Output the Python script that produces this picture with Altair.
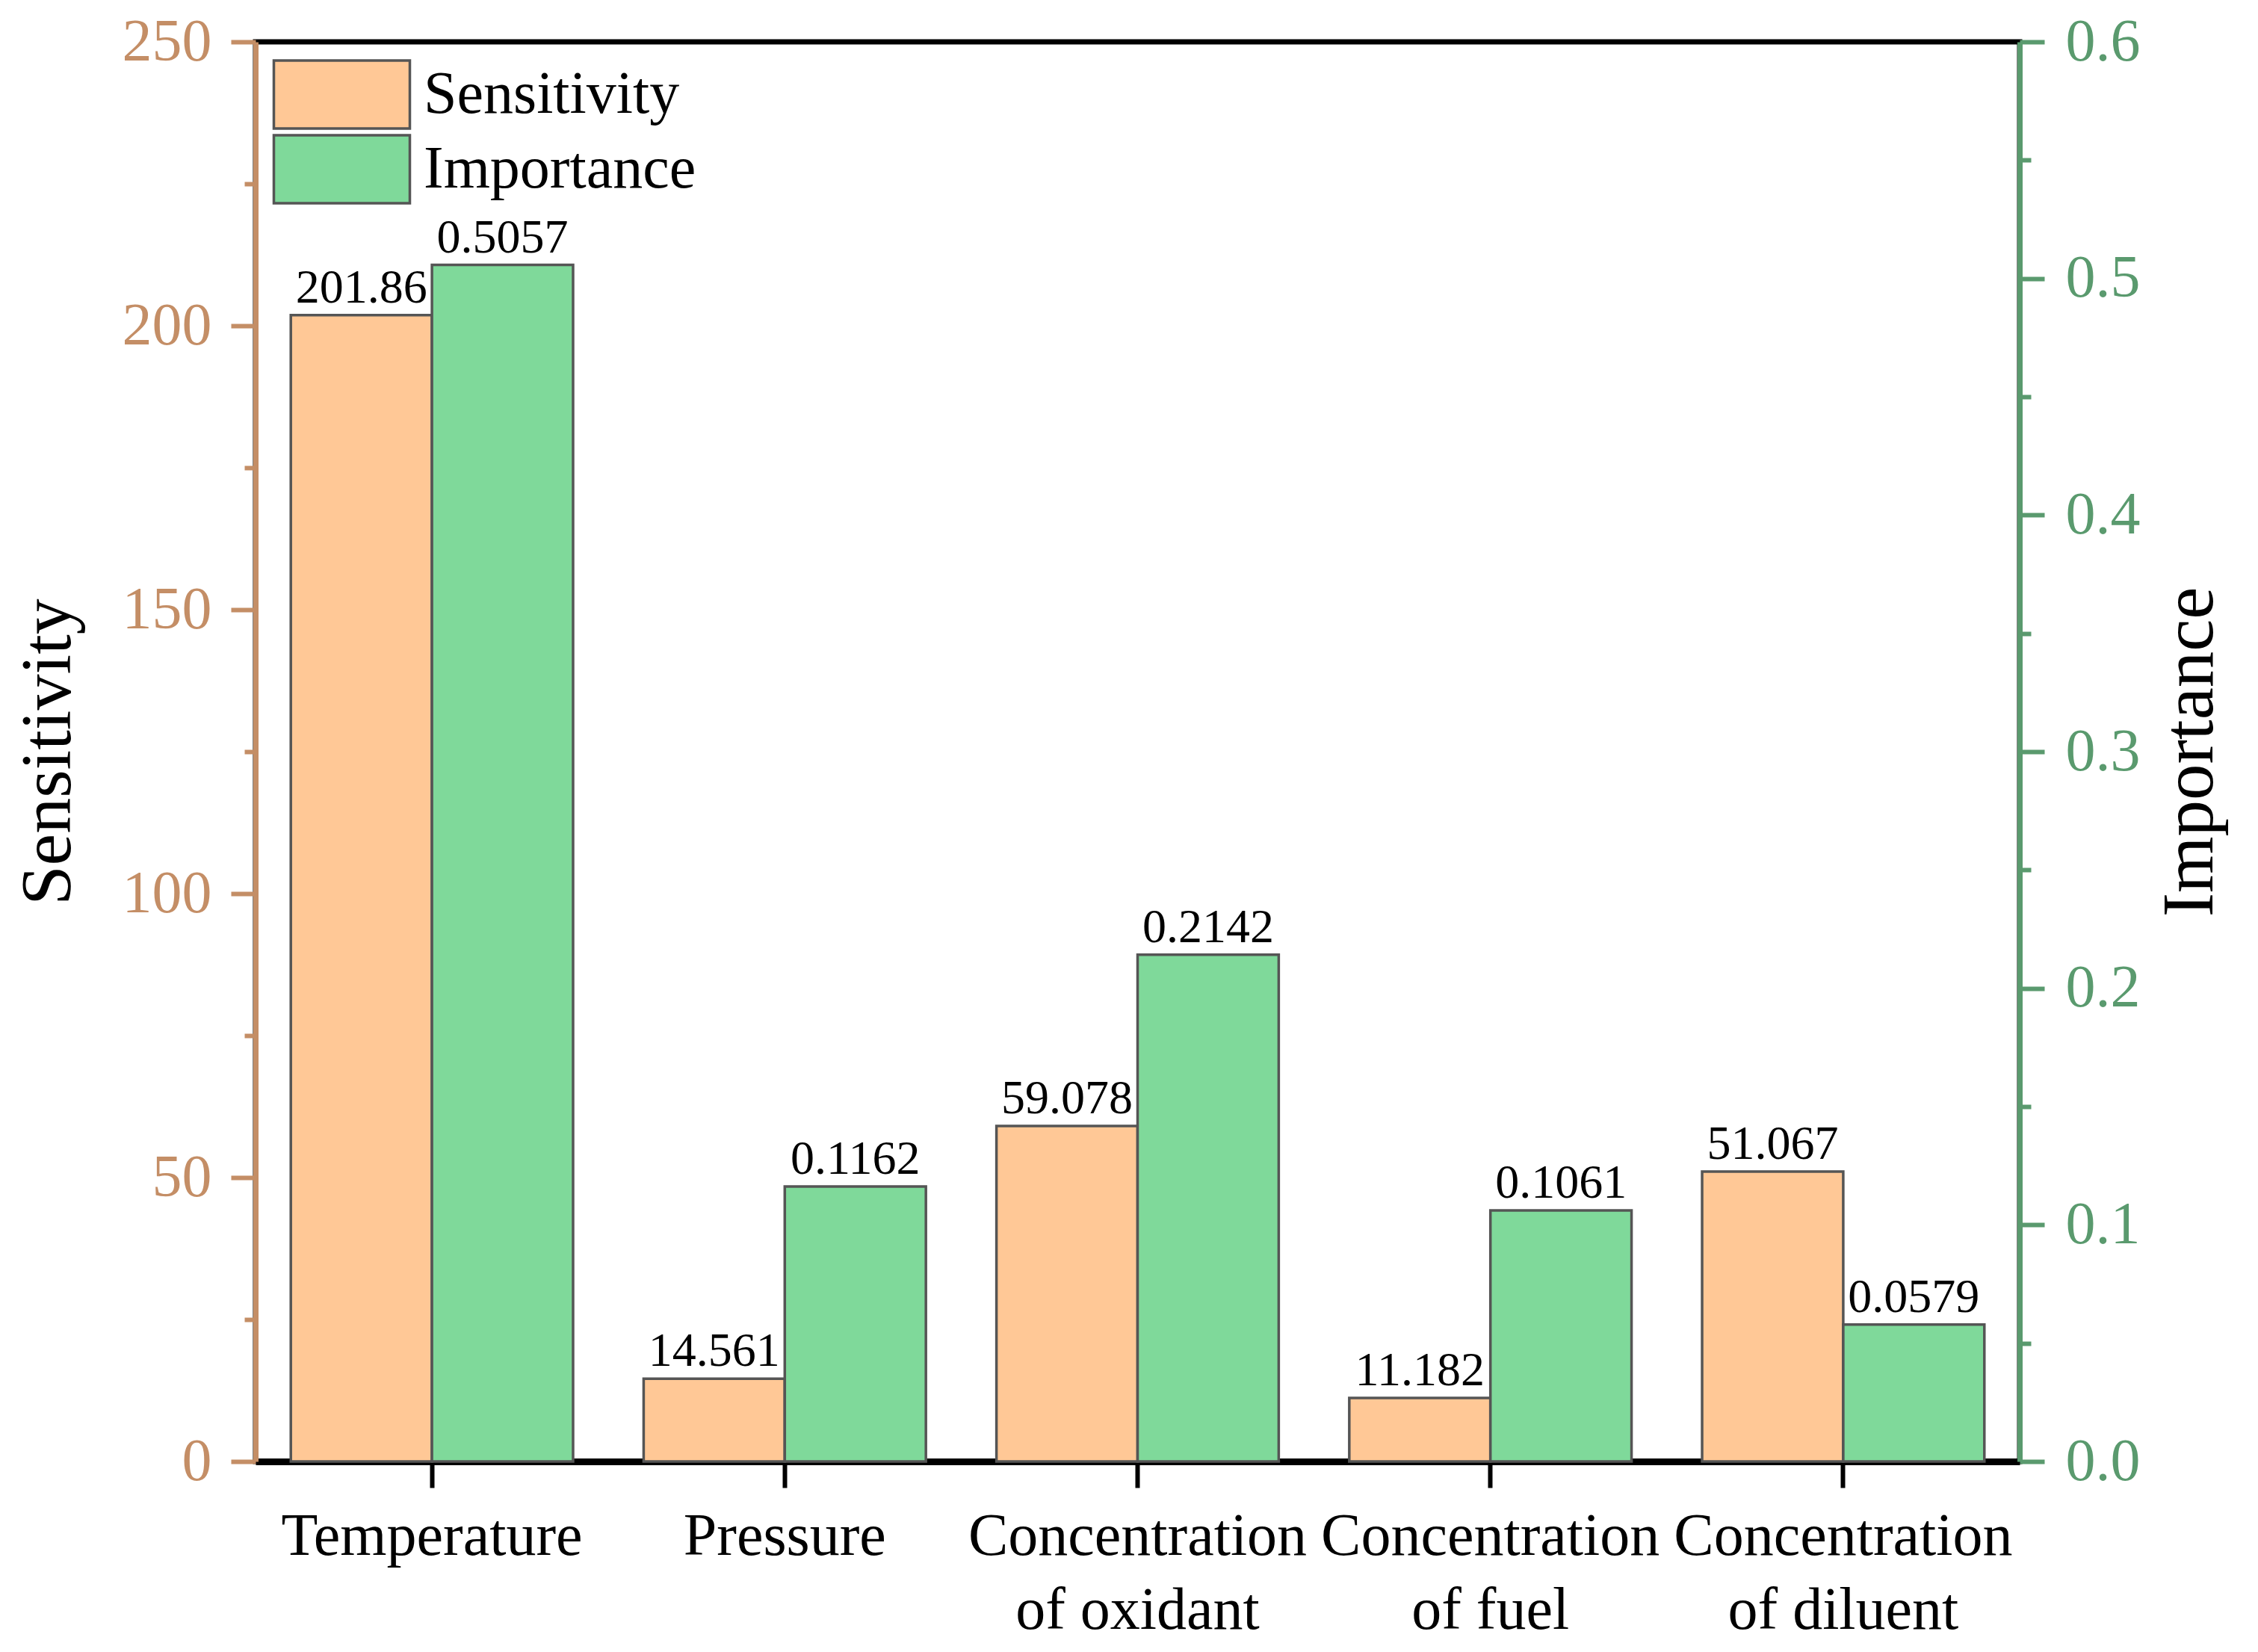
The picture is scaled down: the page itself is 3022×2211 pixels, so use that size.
import altair as alt
import pandas as pd

categories = ["Temperature", "Pressure", "Concentration of oxidant",
              "Concentration of fuel", "Concentration of diluent"]
series_names = ["Sensitivity", "Importance"]
sensitivity = [201.86, 14.561, 59.078, 11.182, 51.067]
importance = [0.5057, 0.1162, 0.2142, 0.1061, 0.0579]
left_ticks = [0, 25, 50, 75, 100, 125, 150, 175, 200, 225, 250]
right_ticks = [0.0, 0.05, 0.1, 0.15, 0.2, 0.25, 0.3, 0.35, 0.4, 0.45, 0.5, 0.55, 0.6]

PEACH = "#FFC896"
GREEN = "#7FD99A"
EDGE = "#555555"
TAN = "#C48E66"
GAXIS = "#5A9A6E"
FONT = "Liberation Serif"

rows = []
for c, v in zip(categories, sensitivity):
    rows.append({"category": c, "series": "Sensitivity", "value": v, "label": str(v)})
for c, v in zip(categories, importance):
    rows.append({"category": c, "series": "Importance", "value": v, "label": str(v)})
df = pd.DataFrame(rows)

label_expr = ("indexof(datum.label, 'Concentration ') == 0 ? "
              "['Concentration', substring(datum.label, 14)] : datum.label")

x_enc = alt.X("category:N", sort=categories,
              scale=alt.Scale(paddingInner=0, paddingOuter=0),
              axis=alt.Axis(title=None, labelAngle=0, labelExpr=label_expr,
                            labelFontSize=80, labelLineHeight=99, labelPadding=26,
                            labelLimit=0,
                            labelColor="black", domainColor="black", domainWidth=9,
                            tickColor="black", tickWidth=6, tickSize=35,
                            labelFont=FONT))
xo_enc = alt.XOffset("series:N",
                     scale=alt.Scale(domain=series_names, paddingInner=0, paddingOuter=0.25))
color_enc = alt.Color("series:N",
                      scale=alt.Scale(domain=series_names, range=[PEACH, GREEN]),
                      legend=alt.Legend(title=None, orient="none", legendX=68, legendY=23,
                                        padding=0,
                                        symbolType="M-2,-1H2V1H-2Z", symbolSize=8281,
                                        symbolStrokeColor=EDGE, symbolStrokeWidth=3.5,
                                        labelFont=FONT, labelFontSize=80, labelOffset=62,
                                        labelColor="black", rowPadding=-5, labelLimit=1000))

y_left = alt.Y("value:Q",
               scale=alt.Scale(domain=[0, 250], nice=False, zero=True),
               axis=alt.Axis(title="Sensitivity", orient="left", values=left_ticks,
                             labelExpr="datum.value % 50 == 0 ? datum.label : ''",
                             tickSize={"condition": {"test": "datum.value % 50 == 0", "value": 33},
                                       "value": 15},
                             domainColor=TAN, tickColor=TAN, labelColor=TAN,
                             domainWidth=7, tickWidth=6, labelFontSize=80, labelPadding=26,
                             labelFont=FONT, titleFont=FONT, titleFontSize=96,
                             titleFontWeight="normal", titleColor="black", titlePadding=50,
                             grid=False))
y_right = alt.Y("value:Q",
                scale=alt.Scale(domain=[0, 0.6], nice=False, zero=True),
                axis=alt.Axis(title="Importance", orient="right", values=right_ticks,
                              format=".1f",
                              labelExpr="round(datum.value * 100) % 10 == 0 ? datum.label : ''",
                              tickSize={"condition": {"test": "round(datum.value * 100) % 10 == 0",
                                                      "value": 33},
                                        "value": 15},
                              domainColor=GAXIS, tickColor=GAXIS, labelColor=GAXIS,
                              domainWidth=7, tickWidth=6, labelFontSize=80, labelPadding=28,
                              labelFont=FONT, titleFont=FONT, titleFontSize=97,
                              titleFontWeight="normal", titleColor="black", titlePadding=116,
                              titleAngle=270, grid=False))

base = alt.Chart(df)

bars_s = base.transform_filter(alt.datum.series == "Sensitivity").mark_bar(
    stroke=EDGE, strokeWidth=3.5).encode(x=x_enc, xOffset=xo_enc, y=y_left, color=color_enc)
text_s = base.transform_filter(alt.datum.series == "Sensitivity").mark_text(
    baseline="bottom", dy=-4, fontSize=64, font=FONT, color="black").encode(
    x=x_enc, xOffset=xo_enc, y=y_left, text="label:N")

bars_i = base.transform_filter(alt.datum.series == "Importance").mark_bar(
    stroke=EDGE, strokeWidth=3.5).encode(x=x_enc, xOffset=xo_enc, y=y_right, color=color_enc)
text_i = base.transform_filter(alt.datum.series == "Importance").mark_text(
    baseline="bottom", dy=-4, fontSize=64, font=FONT, color="black").encode(
    x=x_enc, xOffset=xo_enc, y=y_right, text="label:N")

left = alt.layer(bars_s, text_s)
right = alt.layer(bars_i, text_i)

chart = alt.layer(left, right).resolve_scale(y="independent").properties(
    width=2361, height=1900,
    padding={"left": 8, "top": 8, "right": 10, "bottom": 5},
).configure(background="white").configure_view(stroke="black", strokeWidth=7)

chart.save("out.html", embed_options={"renderer": "svg", "actions": False})
